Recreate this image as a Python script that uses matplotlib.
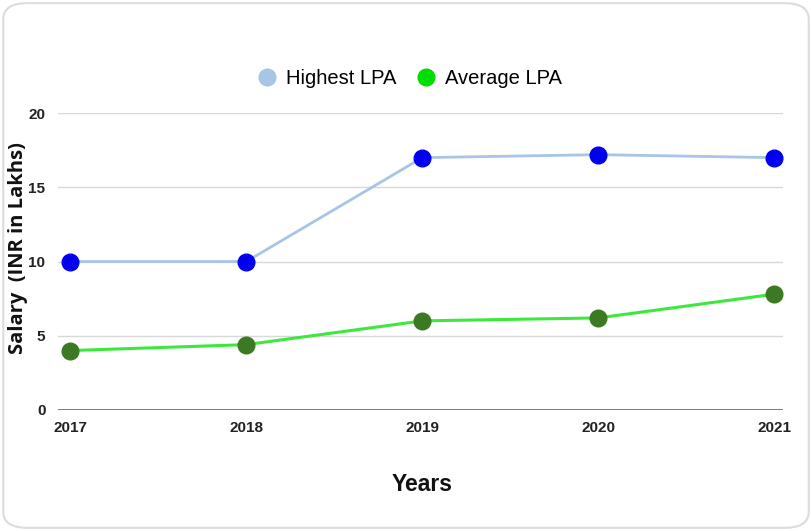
import matplotlib.pyplot as plt
from matplotlib.patches import FancyBboxPatch
from matplotlib.lines import Line2D

years = [2017, 2018, 2019, 2020, 2021]
highest_lpa = [10, 10, 17, 17.2, 17]
average_lpa = [4, 4.4, 6, 6.2, 7.8]
y_ticks = [0, 5, 10, 15, 20]

fig = plt.figure(figsize=(8.12, 5.31), dpi=100)

# rounded light frame around the picture
frame = FancyBboxPatch((0.004, 0.006), 0.992, 0.988, boxstyle="round,pad=0,rounding_size=0.03",
                       transform=fig.transFigure, facecolor='white', edgecolor='#dcdcdc',
                       linewidth=1.5, zorder=-10)
fig.patches.append(frame)

ax = fig.add_axes([0.0714, 0.228, 0.893, 0.559])
ax.set_facecolor('none')

ax.plot(years, highest_lpa, color='#a7c5e6', linewidth=2, zorder=3)
ax.plot(years, highest_lpa, 'o', color='#0000ee', markersize=12, zorder=4)
ax.plot(years, average_lpa, color='#3de83d', linewidth=2.2, zorder=3)
ax.plot(years, average_lpa, 'o', color='#3b7a22', markersize=12, zorder=4)

ax.set_xlim(2016.93, 2021.05)
ax.set_ylim(0, 20)
ax.set_yticks(y_ticks)
ax.set_xticks(years)
ax.grid(axis='y', color='#d8d8d8', linewidth=1)
ax.axhline(0, color='#707070', linewidth=2, zorder=2)
for s in ax.spines.values():
    s.set_visible(False)
ax.tick_params(length=0)
ax.tick_params(axis='y', pad=9)
ax.tick_params(axis='x', pad=8)
for lbl in ax.get_xticklabels() + ax.get_yticklabels():
    lbl.set_fontfamily('Liberation Sans')
    lbl.set_fontweight('bold')
    lbl.set_fontsize(11)
    lbl.set_color('#222222')

fig.text(0.52, 0.087, 'Years', ha='center', va='center', fontsize=16.5, fontweight='bold',
         family='Liberation Sans', color='#111111')
fig.text(0.022, 0.533, 'Salary  (INR in Lakhs)', ha='center', va='center', rotation=90,
         fontsize=14.5, fontweight='bold', family='Open Sans', color='#111111')

handles = [Line2D([], [], marker='o', linestyle='none', color='#a7c5e6', markersize=12),
           Line2D([], [], marker='o', linestyle='none', color='#00dd00', markersize=12)]
fig.legend(handles, ['Highest LPA', 'Average LPA'], loc='center', bbox_to_anchor=(0.503, 0.853),
           ncol=2, frameon=False, prop={'family': 'Liberation Sans', 'size': 14.5},
           handletextpad=0.35, columnspacing=0.9, handlelength=1.2)

fig.savefig('out.png', dpi=100)
